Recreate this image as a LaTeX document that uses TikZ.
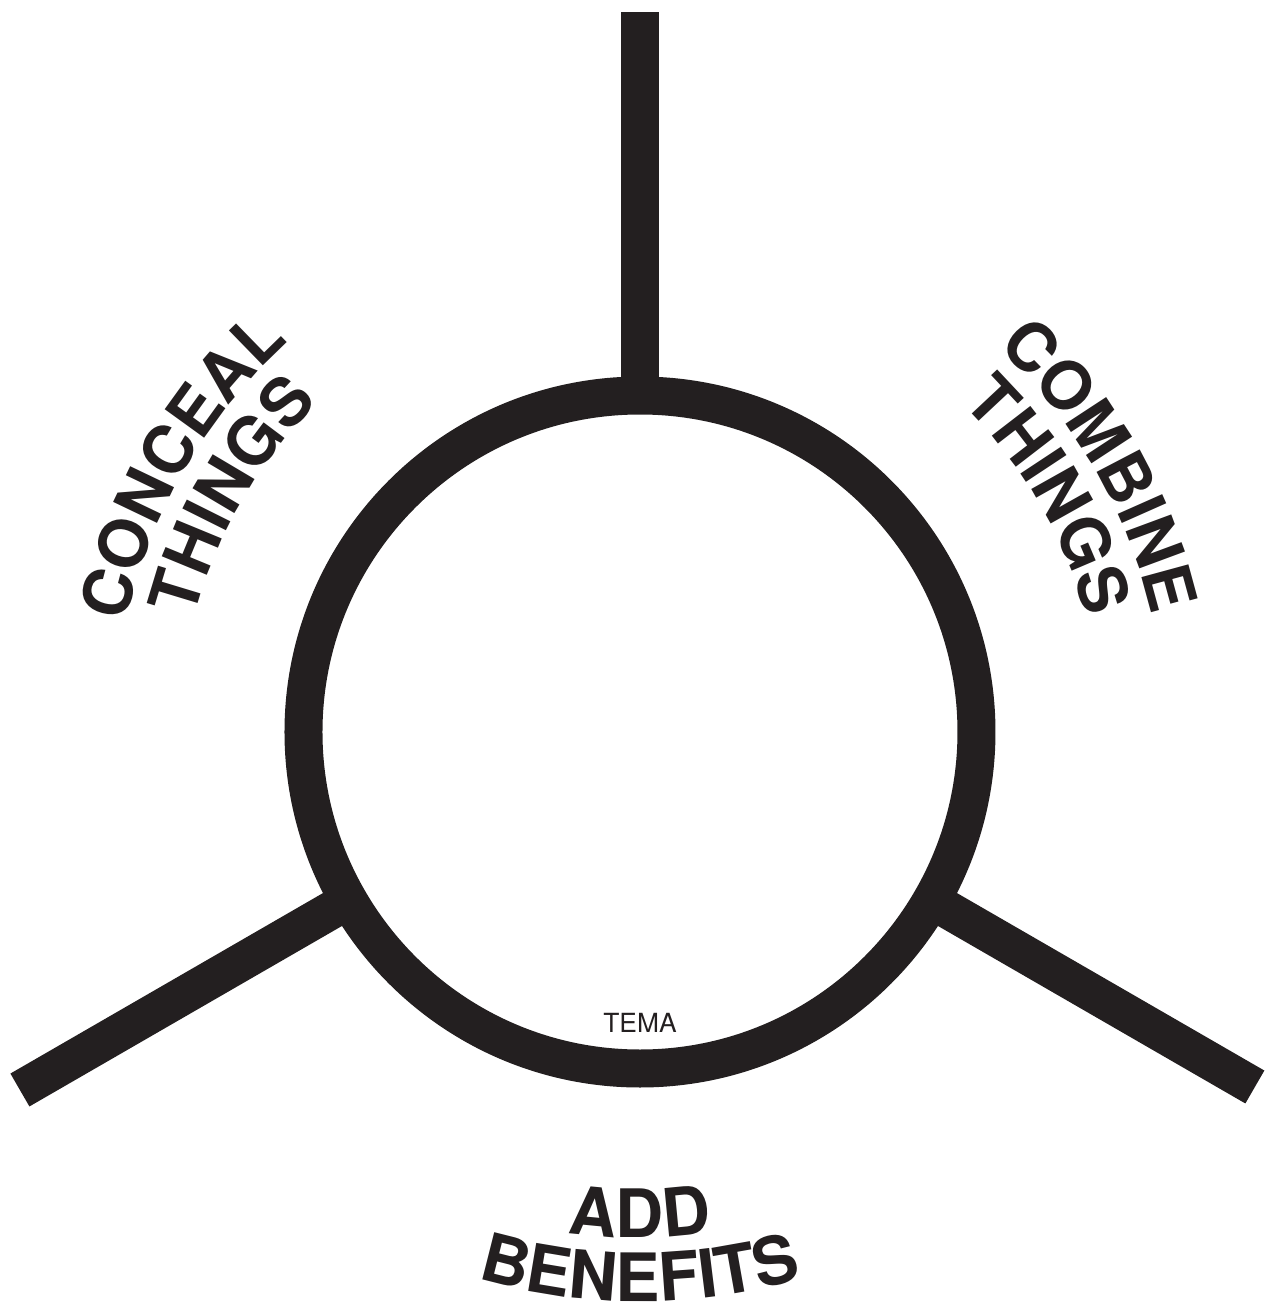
\documentclass[tikz,border=0pt]{standalone}
\usepackage{fontspec}
\setmainfont{TeX Gyre Heros}
\usepackage{xcolor}
\usetikzlibrary{decorations.text, positioning}
\definecolor{ink}{RGB}{35,31,32}
\newcommand{\lblfont}{\fontsize{19}{19}\selectfont\bfseries}

\begin{document}
\begin{tikzpicture}[
  ring/.style={draw=ink, circle, line width=3.8mm, minimum size=67.3mm, inner sep=0pt},
  spoke/.style={draw=ink, line width=3.8mm, shorten <=-1.9mm},
  tema/.style={font=\fontsize{7.5}{8}\selectfont, text=ink, inner sep=0pt},
  curved/.style={decorate, decoration={text along path, text align=center,
                 text color=ink, text={#1}}}
]
  \useasboundingbox (-6.40,-5.80) rectangle (6.26,7.32);

  \node[ring] (hub) at (0,0) {};
  \coordinate (top) at (90:7.20);
  \coordinate (lft) at (210:7.16);
  \coordinate (rgt) at (330:7.10);

  \draw[spoke] (hub.90) -- (top);
  \draw[spoke] (hub.210) -- (lft);
  \draw[spoke] (hub.330) -- (rgt);

  \node[tema] (theme) at (0,-2.91) {TEMA};

  % outer and inner lines of each label
  \path[curved={|\lblfont|CONCEAL}] (190:5.25) arc[start angle=190, end angle=110, radius=5.25];
  \path[curved={|\lblfont|THINGS}] (190:4.60) arc[start angle=190, end angle=110, radius=4.60];
  \path[curved={|\lblfont|COMBINE}] (70:5.25) arc[start angle=70, end angle=-10, radius=5.25];
  \path[curved={|\lblfont|THINGS}] (70:4.60) arc[start angle=70, end angle=-10, radius=4.60];
  \path[curved={|\lblfont|ADD}] (230:5.06) arc[start angle=230, end angle=310, radius=5.06];
  \path[curved={|\lblfont|BENEFITS}] (230:5.70) arc[start angle=230, end angle=310, radius=5.70];
\end{tikzpicture}
\end{document}
